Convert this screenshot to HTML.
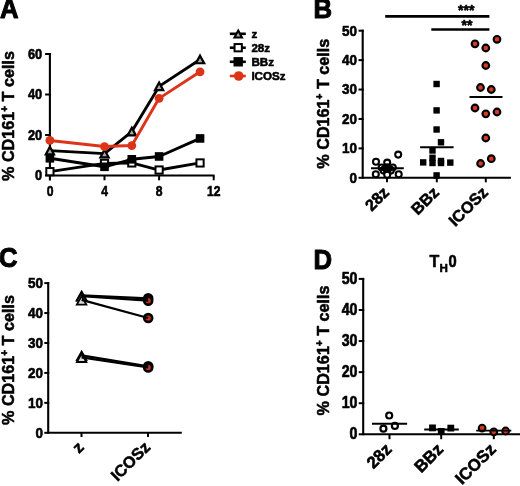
<!DOCTYPE html>
<html><head><meta charset="utf-8"><style>
html,body{margin:0;padding:0;background:#fff;}
svg{display:block;will-change:transform;filter:blur(0.3px);}
</style></head><body>
<svg width="520" height="486" viewBox="0 0 520 486" font-family='"Liberation Sans", sans-serif' fill="#000">
<style>text{stroke:#000;stroke-width:0.55px;stroke-linejoin:round;}</style>
<text transform="translate(0.0,18.3) scale(0.97,1.07)" font-size="26.5" font-weight="bold" style="stroke-width:1.0px">A</text>
<text transform="translate(313.6,18.3) scale(0.97,1.07)" font-size="26.5" font-weight="bold" style="stroke-width:1.0px">B</text>
<text transform="translate(-0.9,266.9) scale(0.97,1.07)" font-size="26.5" font-weight="bold" style="stroke-width:1.0px">C</text>
<text transform="translate(313.4,268.9) scale(0.97,1.07)" font-size="26.5" font-weight="bold" style="stroke-width:1.0px">D</text>
<text transform="translate(13.5,116) rotate(-90)" text-anchor="middle" font-size="16.2" font-weight="bold">% CD161<tspan dy="-6" font-size="10">+</tspan><tspan dy="6"> T cells</tspan></text>
<text transform="translate(328.9,103.7) rotate(-90)" text-anchor="middle" font-size="16.2" font-weight="bold">% CD161<tspan dy="-6" font-size="10">+</tspan><tspan dy="6"> T cells</tspan></text>
<text transform="translate(13.5,360) rotate(-90)" text-anchor="middle" font-size="16.2" font-weight="bold">% CD161<tspan dy="-6" font-size="10">+</tspan><tspan dy="6"> T cells</tspan></text>
<text transform="translate(328.9,350.4) rotate(-90)" text-anchor="middle" font-size="16.2" font-weight="bold">% CD161<tspan dy="-6" font-size="10">+</tspan><tspan dy="6"> T cells</tspan></text>
<line x1="49.9" y1="53" x2="49.9" y2="180.5" stroke="#000" stroke-width="2.1"/>
<line x1="48.9" y1="175.5" x2="214.6" y2="175.5" stroke="#000" stroke-width="2.1"/>
<line x1="45.1" y1="175.50" x2="50.9" y2="175.50" stroke="#000" stroke-width="2"/>
<text transform="translate(42.20,180.40) scale(0.95,1.13)" text-anchor="end" font-size="13.5" font-weight="bold">0</text>
<line x1="45.1" y1="135.00" x2="50.9" y2="135.00" stroke="#000" stroke-width="2"/>
<text transform="translate(42.20,139.90) scale(0.95,1.13)" text-anchor="end" font-size="13.5" font-weight="bold">20</text>
<line x1="45.1" y1="94.50" x2="50.9" y2="94.50" stroke="#000" stroke-width="2"/>
<text transform="translate(42.20,99.40) scale(0.95,1.13)" text-anchor="end" font-size="13.5" font-weight="bold">40</text>
<line x1="45.1" y1="54.00" x2="50.9" y2="54.00" stroke="#000" stroke-width="2"/>
<text transform="translate(42.20,58.90) scale(0.95,1.13)" text-anchor="end" font-size="13.5" font-weight="bold">60</text>
<line x1="104.50" y1="175.5" x2="104.50" y2="180.3" stroke="#000" stroke-width="2"/>
<line x1="159.10" y1="175.5" x2="159.10" y2="180.3" stroke="#000" stroke-width="2"/>
<line x1="213.70" y1="175.5" x2="213.70" y2="180.3" stroke="#000" stroke-width="2"/>
<text transform="translate(50.00,196) scale(0.9,1.13)" text-anchor="middle" font-size="13.5" font-weight="bold">0</text>
<text transform="translate(104.60,196) scale(0.9,1.13)" text-anchor="middle" font-size="13.5" font-weight="bold">4</text>
<text transform="translate(159.20,196) scale(0.9,1.13)" text-anchor="middle" font-size="13.5" font-weight="bold">8</text>
<text transform="translate(213.80,196) scale(0.9,1.13)" text-anchor="middle" font-size="13.5" font-weight="bold">12</text>
<polyline points="49.90,171.65 104.50,163.35 131.80,162.94 159.10,170.03 200.05,162.94" fill="none" stroke="#000" stroke-width="2.9" stroke-linejoin="round"/>
<rect x="46.30" y="168.05" width="7.2" height="7.2" fill="#fff" stroke="#000" stroke-width="2"/>
<rect x="100.90" y="159.75" width="7.2" height="7.2" fill="#fff" stroke="#000" stroke-width="2"/>
<rect x="128.20" y="159.34" width="7.2" height="7.2" fill="#fff" stroke="#000" stroke-width="2"/>
<rect x="155.50" y="166.43" width="7.2" height="7.2" fill="#fff" stroke="#000" stroke-width="2"/>
<rect x="196.45" y="159.34" width="7.2" height="7.2" fill="#fff" stroke="#000" stroke-width="2"/>
<polyline points="49.90,158.29 104.50,166.79 131.80,159.30 159.10,156.47 200.05,138.44" fill="none" stroke="#000" stroke-width="2.9" stroke-linejoin="round"/>
<rect x="45.60" y="153.99" width="8.6" height="8.6" fill="#000"/>
<rect x="100.20" y="162.49" width="8.6" height="8.6" fill="#000"/>
<rect x="127.50" y="155.00" width="8.6" height="8.6" fill="#000"/>
<rect x="154.80" y="152.16" width="8.6" height="8.6" fill="#000"/>
<rect x="195.75" y="134.14" width="8.6" height="8.6" fill="#000"/>
<polyline points="49.90,150.59 104.50,153.63 131.80,131.56 159.10,86.40 200.05,59.47" fill="none" stroke="#000" stroke-width="2.9" stroke-linejoin="round"/>
<polygon points="49.90,146.79 54.00,154.39 45.80,154.39" fill="#aaa" stroke="#000" stroke-width="2.2" stroke-linejoin="miter"/>
<polygon points="104.50,149.83 108.60,157.43 100.40,157.43" fill="#aaa" stroke="#000" stroke-width="2.2" stroke-linejoin="miter"/>
<polygon points="131.80,127.76 135.90,135.36 127.70,135.36" fill="#aaa" stroke="#000" stroke-width="2.2" stroke-linejoin="miter"/>
<polygon points="159.10,82.60 163.20,90.20 155.00,90.20" fill="#aaa" stroke="#000" stroke-width="2.2" stroke-linejoin="miter"/>
<polygon points="200.05,55.67 204.15,63.27 195.95,63.27" fill="#aaa" stroke="#000" stroke-width="2.2" stroke-linejoin="miter"/>
<polyline points="49.90,140.47 104.50,146.54 131.80,145.53 159.10,98.35 200.05,71.82" fill="none" stroke="#dc3319" stroke-width="2.9" stroke-linejoin="round"/>
<circle cx="49.90" cy="140.47" r="4.4" fill="#dc3319"/>
<circle cx="104.50" cy="146.54" r="4.4" fill="#dc3319"/>
<circle cx="131.80" cy="145.53" r="4.4" fill="#dc3319"/>
<circle cx="159.10" cy="98.35" r="4.4" fill="#dc3319"/>
<circle cx="200.05" cy="71.82" r="4.4" fill="#dc3319"/>
<line x1="229.8" y1="33.8" x2="245.8" y2="33.8" stroke="#000" stroke-width="2.6"/>
<polygon points="238.20,30.61 241.94,37.55 234.46,37.55" fill="#aaa" stroke="#000" stroke-width="2.1" stroke-linejoin="miter" stroke-miterlimit="10"/>
<text x="251.4" y="38.199999999999996" font-size="11.6" font-weight="bold">z</text>
<line x1="229.8" y1="47.7" x2="245.8" y2="47.7" stroke="#000" stroke-width="2.6"/>
<rect x="234.55" y="44.05" width="7.3" height="7.3" fill="#fff" stroke="#000" stroke-width="2"/>
<text x="251.4" y="52.1" font-size="11.6" font-weight="bold">28z</text>
<line x1="229.8" y1="61.8" x2="245.8" y2="61.8" stroke="#000" stroke-width="2.6"/>
<rect x="233.50" y="57.10" width="9.4" height="9.4" fill="#000"/>
<text x="251.4" y="66.2" font-size="11.6" font-weight="bold">BBz</text>
<line x1="229.8" y1="76.0" x2="245.8" y2="76.0" stroke="#dc3319" stroke-width="2.6"/>
<circle cx="238.70" cy="76.00" r="4.8" fill="#dc3319"/>
<text x="251.4" y="80.4" font-size="11.6" font-weight="bold">ICOSz</text>
<line x1="362.7" y1="29.7" x2="362.7" y2="177.8" stroke="#000" stroke-width="2.1"/>
<line x1="361.7" y1="177.8" x2="510.9" y2="177.8" stroke="#000" stroke-width="2.1"/>
<line x1="358.5" y1="177.80" x2="363.7" y2="177.80" stroke="#000" stroke-width="2"/>
<text transform="translate(356.90,182.70) scale(1.0,1.13)" text-anchor="end" font-size="13.5" font-weight="bold">0</text>
<line x1="358.5" y1="148.38" x2="363.7" y2="148.38" stroke="#000" stroke-width="2"/>
<text transform="translate(356.90,153.28) scale(1.0,1.13)" text-anchor="end" font-size="13.5" font-weight="bold">10</text>
<line x1="358.5" y1="118.96" x2="363.7" y2="118.96" stroke="#000" stroke-width="2"/>
<text transform="translate(356.90,123.86) scale(1.0,1.13)" text-anchor="end" font-size="13.5" font-weight="bold">20</text>
<line x1="358.5" y1="89.54" x2="363.7" y2="89.54" stroke="#000" stroke-width="2"/>
<text transform="translate(356.90,94.44) scale(1.0,1.13)" text-anchor="end" font-size="13.5" font-weight="bold">30</text>
<line x1="358.5" y1="60.12" x2="363.7" y2="60.12" stroke="#000" stroke-width="2"/>
<text transform="translate(356.90,65.02) scale(1.0,1.13)" text-anchor="end" font-size="13.5" font-weight="bold">40</text>
<line x1="358.5" y1="30.70" x2="363.7" y2="30.70" stroke="#000" stroke-width="2"/>
<text transform="translate(356.90,35.60) scale(1.0,1.13)" text-anchor="end" font-size="13.5" font-weight="bold">50</text>
<line x1="387.0" y1="177.8" x2="387.0" y2="182.3" stroke="#000" stroke-width="2"/>
<line x1="436.8" y1="177.8" x2="436.8" y2="182.3" stroke="#000" stroke-width="2"/>
<line x1="485.8" y1="177.8" x2="485.8" y2="182.3" stroke="#000" stroke-width="2"/>
<circle cx="398.20" cy="154.60" r="3.0" fill="#fff" stroke="#000" stroke-width="2.05"/>
<circle cx="376.00" cy="161.80" r="3.0" fill="#fff" stroke="#000" stroke-width="2.05"/>
<circle cx="387.20" cy="162.60" r="3.0" fill="#fff" stroke="#000" stroke-width="2.05"/>
<circle cx="381.60" cy="167.40" r="3.0" fill="#fff" stroke="#000" stroke-width="2.05"/>
<circle cx="392.80" cy="167.40" r="3.0" fill="#fff" stroke="#000" stroke-width="2.05"/>
<circle cx="387.20" cy="167.20" r="3.0" fill="#fff" stroke="#000" stroke-width="2.05"/>
<circle cx="383.60" cy="170.60" r="3.0" fill="#fff" stroke="#000" stroke-width="2.05"/>
<circle cx="390.80" cy="170.60" r="3.0" fill="#fff" stroke="#000" stroke-width="2.05"/>
<circle cx="387.20" cy="171.20" r="3.0" fill="#fff" stroke="#000" stroke-width="2.05"/>
<circle cx="375.80" cy="174.30" r="3.0" fill="#fff" stroke="#000" stroke-width="2.05"/>
<circle cx="387.20" cy="174.80" r="3.0" fill="#fff" stroke="#000" stroke-width="2.05"/>
<circle cx="398.70" cy="174.30" r="3.0" fill="#fff" stroke="#000" stroke-width="2.05"/>
<ellipse cx="387.2" cy="168.4" rx="7.2" ry="3.7" fill="#000"/>
<line x1="371" y1="168.3" x2="403.8" y2="168.3" stroke="#000" stroke-width="1.9"/>
<rect x="433.40" y="80.80" width="6.4" height="6.4" fill="#000"/>
<rect x="433.40" y="107.20" width="6.4" height="6.4" fill="#000"/>
<rect x="433.40" y="126.30" width="6.4" height="6.4" fill="#000"/>
<rect x="437.80" y="139.10" width="6.4" height="6.4" fill="#000"/>
<rect x="429.30" y="147.30" width="6.4" height="6.4" fill="#000"/>
<rect x="429.30" y="154.60" width="6.4" height="6.4" fill="#000"/>
<rect x="429.30" y="159.80" width="6.4" height="6.4" fill="#000"/>
<rect x="437.80" y="157.80" width="6.4" height="6.4" fill="#000"/>
<rect x="437.80" y="159.80" width="6.4" height="6.4" fill="#000"/>
<rect x="420.00" y="159.20" width="6.4" height="6.4" fill="#000"/>
<rect x="447.10" y="159.40" width="6.4" height="6.4" fill="#000"/>
<rect x="433.40" y="172.20" width="6.4" height="6.4" fill="#000"/>
<line x1="420.1" y1="147.2" x2="453.6" y2="147.2" stroke="#000" stroke-width="1.9"/>
<circle cx="497.00" cy="39.30" r="3.35" fill="#d63a26" stroke="#000" stroke-width="2.1"/>
<circle cx="475.00" cy="43.80" r="3.35" fill="#d63a26" stroke="#000" stroke-width="2.1"/>
<circle cx="485.80" cy="48.00" r="3.35" fill="#d63a26" stroke="#000" stroke-width="2.1"/>
<circle cx="485.80" cy="65.50" r="3.35" fill="#d63a26" stroke="#000" stroke-width="2.1"/>
<circle cx="480.50" cy="87.50" r="3.35" fill="#d63a26" stroke="#000" stroke-width="2.1"/>
<circle cx="491.30" cy="89.50" r="3.35" fill="#d63a26" stroke="#000" stroke-width="2.1"/>
<circle cx="475.00" cy="108.00" r="3.35" fill="#d63a26" stroke="#000" stroke-width="2.1"/>
<circle cx="497.00" cy="112.00" r="3.35" fill="#d63a26" stroke="#000" stroke-width="2.1"/>
<circle cx="485.80" cy="113.80" r="3.35" fill="#d63a26" stroke="#000" stroke-width="2.1"/>
<circle cx="485.80" cy="138.00" r="3.35" fill="#d63a26" stroke="#000" stroke-width="2.1"/>
<circle cx="491.30" cy="158.70" r="3.35" fill="#d63a26" stroke="#000" stroke-width="2.1"/>
<circle cx="480.60" cy="163.50" r="3.35" fill="#d63a26" stroke="#000" stroke-width="2.1"/>
<line x1="469.5" y1="97" x2="502.5" y2="97" stroke="#000" stroke-width="1.9"/>
<line x1="385.2" y1="16.4" x2="489.4" y2="16.4" stroke="#000" stroke-width="2.6"/>
<line x1="431.3" y1="29.5" x2="489.4" y2="29.5" stroke="#000" stroke-width="2.6"/>
<text x="466.3" y="14.5" text-anchor="middle" font-size="14" font-weight="bold">***</text>
<text x="467" y="29.8" text-anchor="middle" font-size="14" font-weight="bold">**</text>
<text transform="translate(390.10,193.50) rotate(-45)" text-anchor="end" font-size="16.2" font-weight="bold">28z</text>
<text transform="translate(439.90,193.50) rotate(-45)" text-anchor="end" font-size="16.2" font-weight="bold">BBz</text>
<text transform="translate(488.90,193.50) rotate(-45)" text-anchor="end" font-size="16.2" font-weight="bold">ICOSz</text>
<line x1="48.2" y1="282.1" x2="48.2" y2="432.8" stroke="#000" stroke-width="2.1"/>
<line x1="47.2" y1="432.8" x2="181.8" y2="432.8" stroke="#000" stroke-width="2.1"/>
<line x1="44.3" y1="432.80" x2="49.2" y2="432.80" stroke="#000" stroke-width="2"/>
<text transform="translate(42.90,437.70) scale(1.0,1.13)" text-anchor="end" font-size="13.5" font-weight="bold">0</text>
<line x1="44.3" y1="402.86" x2="49.2" y2="402.86" stroke="#000" stroke-width="2"/>
<text transform="translate(42.90,407.76) scale(1.0,1.13)" text-anchor="end" font-size="13.5" font-weight="bold">10</text>
<line x1="44.3" y1="372.92" x2="49.2" y2="372.92" stroke="#000" stroke-width="2"/>
<text transform="translate(42.90,377.82) scale(1.0,1.13)" text-anchor="end" font-size="13.5" font-weight="bold">20</text>
<line x1="44.3" y1="342.98" x2="49.2" y2="342.98" stroke="#000" stroke-width="2"/>
<text transform="translate(42.90,347.88) scale(1.0,1.13)" text-anchor="end" font-size="13.5" font-weight="bold">30</text>
<line x1="44.3" y1="313.04" x2="49.2" y2="313.04" stroke="#000" stroke-width="2"/>
<text transform="translate(42.90,317.94) scale(1.0,1.13)" text-anchor="end" font-size="13.5" font-weight="bold">40</text>
<line x1="44.3" y1="283.10" x2="49.2" y2="283.10" stroke="#000" stroke-width="2"/>
<text transform="translate(42.90,288.00) scale(1.0,1.13)" text-anchor="end" font-size="13.5" font-weight="bold">50</text>
<line x1="81.5" y1="432.8" x2="81.5" y2="437" stroke="#000" stroke-width="2"/>
<line x1="148.0" y1="432.8" x2="148.0" y2="437" stroke="#000" stroke-width="2"/>
<polygon points="81.60,291.54 86.36,300.00 76.84,300.00" fill="#dadada" stroke="#000" stroke-width="1.8" stroke-linejoin="miter" stroke-miterlimit="10"/>
<polygon points="81.60,292.44 86.36,300.90 76.84,300.90" fill="#dadada" stroke="#000" stroke-width="1.8" stroke-linejoin="miter" stroke-miterlimit="10"/>
<polygon points="81.60,296.14 86.36,304.60 76.84,304.60" fill="#dadada" stroke="#000" stroke-width="1.8" stroke-linejoin="miter" stroke-miterlimit="10"/>
<polygon points="81.60,351.54 86.36,360.00 76.84,360.00" fill="#dadada" stroke="#000" stroke-width="1.8" stroke-linejoin="miter" stroke-miterlimit="10"/>
<polygon points="81.60,353.54 86.36,362.00 76.84,362.00" fill="#dadada" stroke="#000" stroke-width="1.8" stroke-linejoin="miter" stroke-miterlimit="10"/>
<circle cx="148.20" cy="298.30" r="3.95" fill="#c8321e" stroke="#000" stroke-width="2.7"/>
<circle cx="148.20" cy="300.70" r="3.95" fill="#c8321e" stroke="#000" stroke-width="2.7"/>
<circle cx="148.20" cy="318.00" r="3.95" fill="#c8321e" stroke="#000" stroke-width="2.7"/>
<circle cx="148.20" cy="366.30" r="3.95" fill="#c8321e" stroke="#000" stroke-width="2.7"/>
<circle cx="148.20" cy="367.50" r="3.95" fill="#c8321e" stroke="#000" stroke-width="2.7"/>
<line x1="81.6" y1="295.3" x2="148.2" y2="298.3" stroke="#000" stroke-width="2.2"/>
<line x1="81.6" y1="296.2" x2="148.2" y2="300.7" stroke="#000" stroke-width="2.2"/>
<line x1="81.6" y1="299.9" x2="148.2" y2="318.0" stroke="#000" stroke-width="2.2"/>
<line x1="81.6" y1="355.3" x2="148.2" y2="366.3" stroke="#000" stroke-width="2.2"/>
<line x1="81.6" y1="357.3" x2="148.2" y2="367.5" stroke="#000" stroke-width="2.2"/>
<text transform="translate(84.60,448.20) rotate(-45)" text-anchor="end" font-size="16.2" font-weight="bold">z</text>
<text transform="translate(151.10,448.20) rotate(-45)" text-anchor="end" font-size="16.2" font-weight="bold">ICOSz</text>
<line x1="363.2" y1="277.9" x2="363.2" y2="434.3" stroke="#000" stroke-width="2.1"/>
<line x1="362.2" y1="434.3" x2="520" y2="434.3" stroke="#000" stroke-width="2.1"/>
<line x1="358.7" y1="434.30" x2="364.2" y2="434.30" stroke="#000" stroke-width="2"/>
<text transform="translate(357.50,439.20) scale(1.02,1.13)" text-anchor="end" font-size="13.9" font-weight="bold">0</text>
<line x1="358.7" y1="403.22" x2="364.2" y2="403.22" stroke="#000" stroke-width="2"/>
<text transform="translate(357.50,408.12) scale(1.02,1.13)" text-anchor="end" font-size="13.9" font-weight="bold">10</text>
<line x1="358.7" y1="372.14" x2="364.2" y2="372.14" stroke="#000" stroke-width="2"/>
<text transform="translate(357.50,377.04) scale(1.02,1.13)" text-anchor="end" font-size="13.9" font-weight="bold">20</text>
<line x1="358.7" y1="341.06" x2="364.2" y2="341.06" stroke="#000" stroke-width="2"/>
<text transform="translate(357.50,345.96) scale(1.02,1.13)" text-anchor="end" font-size="13.9" font-weight="bold">30</text>
<line x1="358.7" y1="309.98" x2="364.2" y2="309.98" stroke="#000" stroke-width="2"/>
<text transform="translate(357.50,314.88) scale(1.02,1.13)" text-anchor="end" font-size="13.9" font-weight="bold">40</text>
<line x1="358.7" y1="278.90" x2="364.2" y2="278.90" stroke="#000" stroke-width="2"/>
<text transform="translate(357.50,283.80) scale(1.02,1.13)" text-anchor="end" font-size="13.9" font-weight="bold">50</text>
<line x1="389.5" y1="434.3" x2="389.5" y2="439.2" stroke="#000" stroke-width="2"/>
<line x1="441.2" y1="434.3" x2="441.2" y2="439.2" stroke="#000" stroke-width="2"/>
<line x1="493.8" y1="434.3" x2="493.8" y2="439.2" stroke="#000" stroke-width="2"/>
<circle cx="389.20" cy="415.50" r="3.0" fill="#fff" stroke="#000" stroke-width="2.2"/>
<circle cx="394.90" cy="425.90" r="3.0" fill="#fff" stroke="#000" stroke-width="2.2"/>
<circle cx="383.40" cy="428.70" r="3.0" fill="#fff" stroke="#000" stroke-width="2.2"/>
<line x1="372" y1="423.8" x2="407.1" y2="423.8" stroke="#000" stroke-width="1.9"/>
<rect x="429.10" y="424.50" width="6.8" height="6.8" fill="#000"/>
<rect x="447.40" y="424.70" width="6.8" height="6.8" fill="#000"/>
<rect x="437.80" y="428.00" width="6.8" height="6.8" fill="#000"/>
<line x1="424.2" y1="429.5" x2="458.8" y2="429.5" stroke="#000" stroke-width="1.9"/>
<circle cx="482.10" cy="428.10" r="3.4" fill="#cf3522" stroke="#000" stroke-width="2.0"/>
<circle cx="493.80" cy="431.80" r="3.4" fill="#cf3522" stroke="#000" stroke-width="2.0"/>
<circle cx="505.60" cy="431.00" r="3.4" fill="#cf3522" stroke="#000" stroke-width="2.0"/>
<line x1="476.2" y1="430.6" x2="511.3" y2="430.6" stroke="#000" stroke-width="1.9"/>
<text transform="translate(392.60,450.40) rotate(-45)" text-anchor="end" font-size="16.8" font-weight="bold">28z</text>
<text transform="translate(444.30,450.40) rotate(-45)" text-anchor="end" font-size="16.8" font-weight="bold">BBz</text>
<text transform="translate(496.90,450.40) rotate(-45)" text-anchor="end" font-size="16.8" font-weight="bold">ICOSz</text>
<text x="429.5" y="266.7" font-size="16" font-weight="bold">T</text>
<text x="439.4" y="271.9" font-size="11.6" font-weight="bold">H</text>
<text transform="translate(448.5,267.2) scale(0.98,1.07)" font-size="15" font-weight="bold">0</text>
</svg>
</body></html>
